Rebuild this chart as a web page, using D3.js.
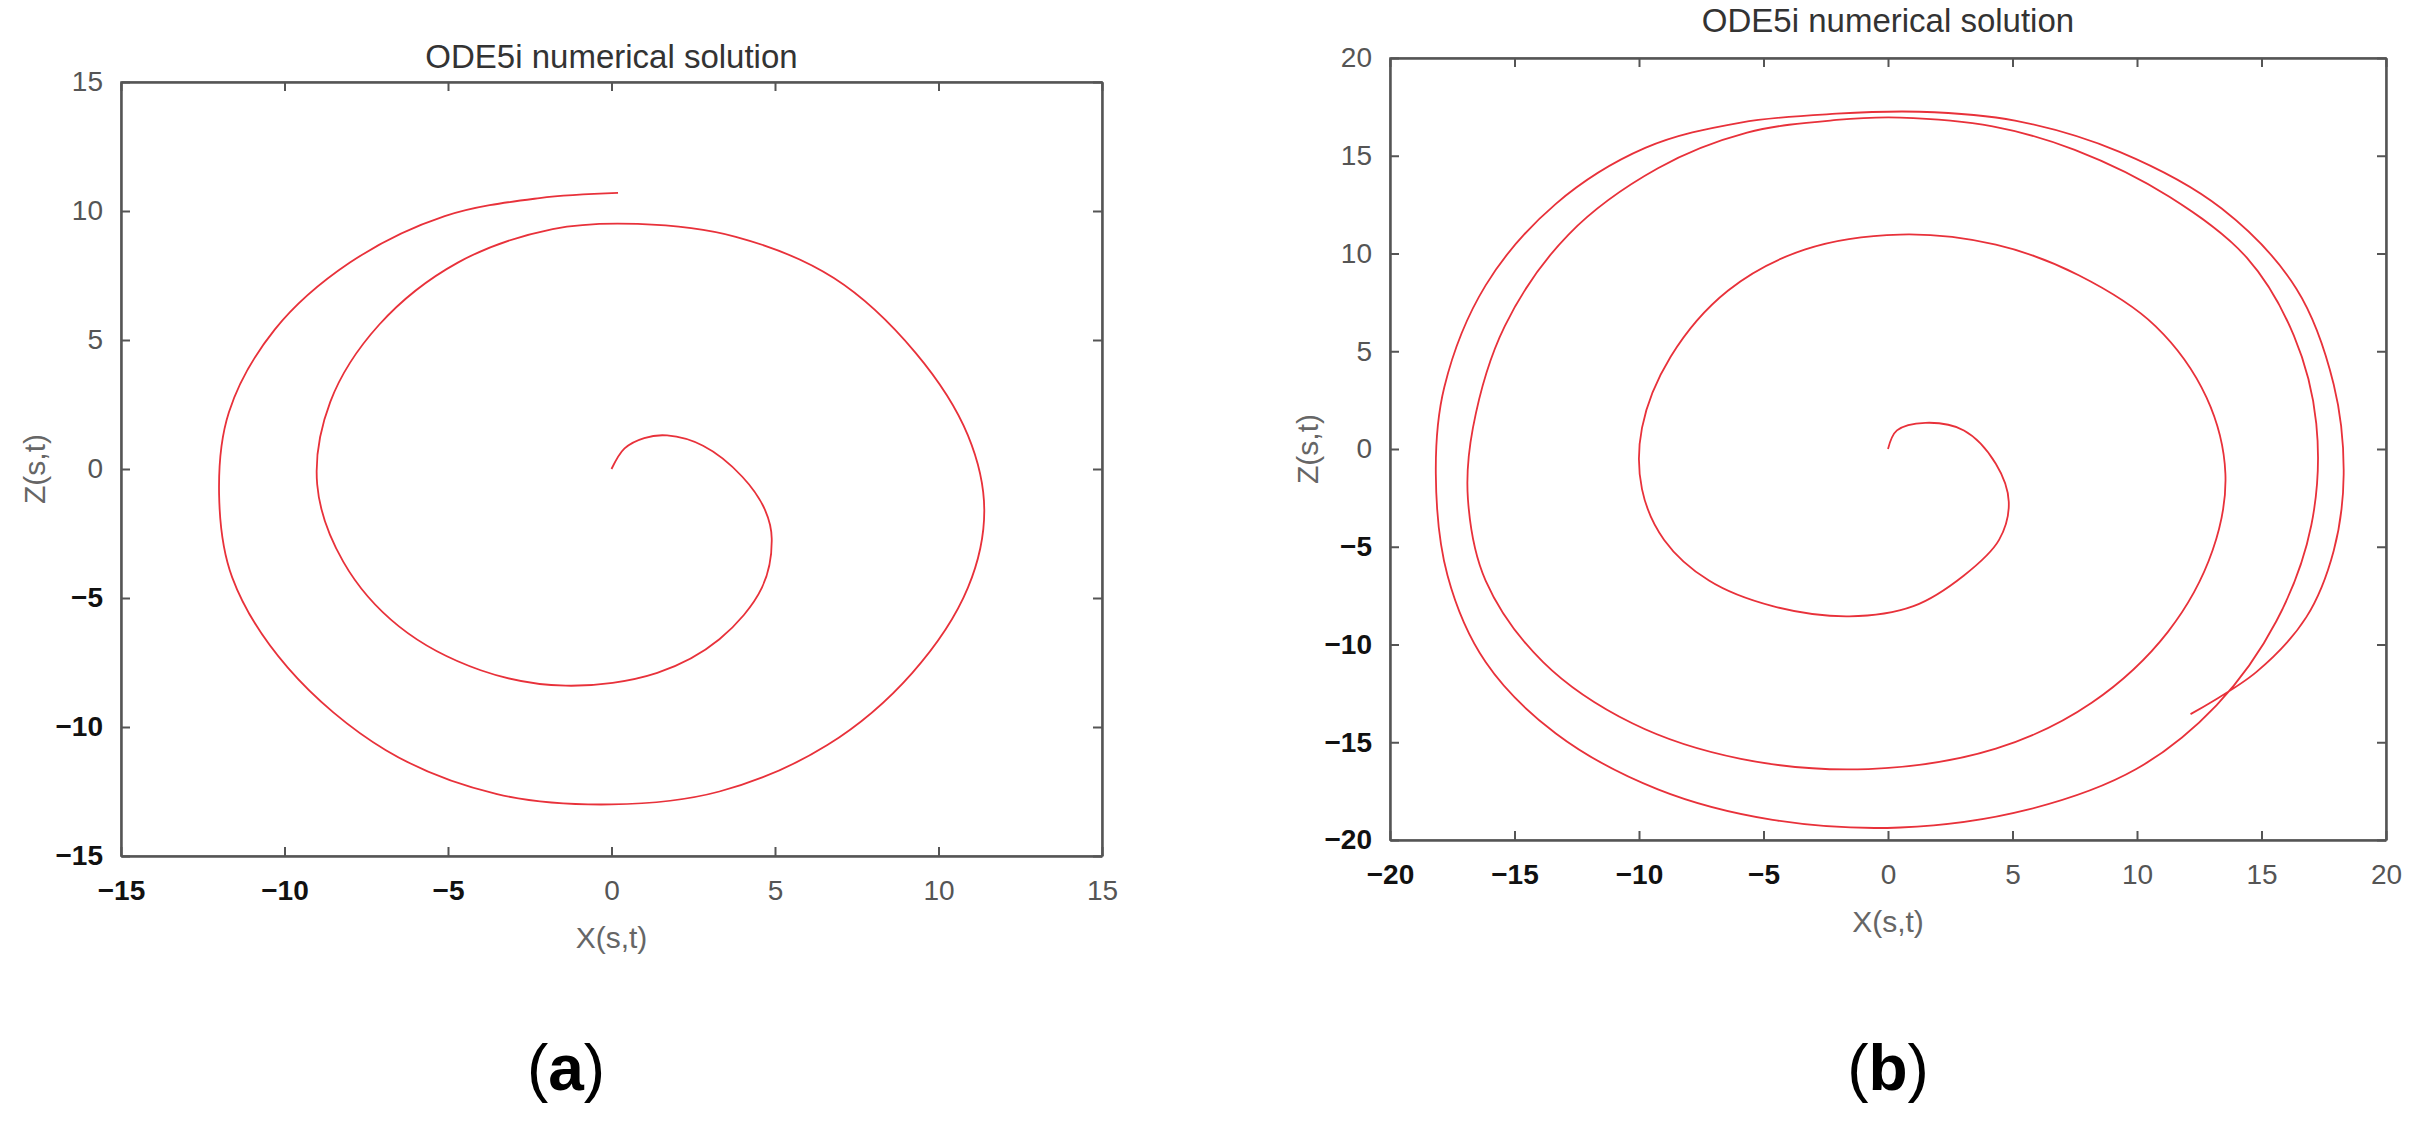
<!DOCTYPE html>
<html>
<head>
<meta charset="utf-8">
<script src="https://cdn.jsdelivr.net/npm/d3@7"></script>
<style>
  body { margin: 0; background: #fff; }
  text { font-family: "Liberation Sans", Arial, sans-serif; }
</style>
</head>
<body>
<svg id="fig" width="2436" height="1140"></svg>
<script>
// panel (a) trajectory: [X, Z]
var spiralA = [
  [0, 0], [0.4, 0.8], [1.0, 1.2], [1.7, 1.3], [2.8, 0.9], [4.0, -0.3], [4.7, -1.6], [4.9, -2.7],
  [4.6, -4.6], [3.3, -6.6], [1.4, -7.9], [-1.4, -8.4], [-4.0, -7.8], [-6.5, -6.1], [-8.2, -3.6],
  [-9.0, -0.6], [-8.6, 2.6], [-7.1, 5.6], [-4.7, 8.0], [-1.8, 9.3], [0.8, 9.5], [3.8, 9.0],
  [6.8, 7.4], [9.3, 4.5], [10.9, 1.3], [11.4, -1.6], [10.9, -4.6], [9.2, -7.9], [6.6, -10.7],
  [3.3, -12.5], [0, -13.0], [-3.5, -12.6], [-6.9, -10.9], [-9.9, -7.7], [-11.6, -4.2],
  [-12.0, -1.0], [-11.7, 2.2], [-10.3, 5.4], [-8.0, 8.0], [-5.1, 9.8], [-2.2, 10.5], [0.2, 10.7]
];
// panel (b) trajectory: [X, Z]
var spiralB = [
  [0, 0], [0.36, 0.95], [1.5, 1.34], [3.05, 0.95], [4.33, -0.75], [4.85, -2.7], [4.46, -4.65],
  [3.05, -6.47], [1.02, -8.04], [-1.56, -8.56], [-4.63, -8.04], [-7.19, -6.73], [-8.99, -4.65],
  [-9.88, -2.05], [-9.88, 1.08], [-8.73, 4.72], [-6.42, 8.11], [-3.35, 10.2], [0.49, 10.97],
  [4.33, 10.45], [7.66, 8.89], [10.74, 6.29], [12.79, 2.64], [13.55, -1.27], [13.04, -5.17],
  [11.25, -9.34], [8.18, -12.98], [4.33, -15.33], [-0.79, -16.37], [-5.91, -15.85],
  [-10.27, -14.03], [-13.85, -10.9], [-16.16, -6.73], [-16.87, -2.57], [-16.67, 1.08],
  [-15.39, 6.29], [-12.83, 10.97], [-9.24, 14.36], [-5.66, 16.18], [-2.07, 16.83], [0.49, 16.95],
  [4.2, 16.5], [7.5, 15.3], [11.3, 12.9], [14.4, 9.8], [16.3, 5.8], [17.2, 1.3],
  [17.0, -3.9], [15.6, -8.8], [13.2, -13.1], [9.97, -16.37], [5.61, -18.45], [0.49, -19.36],
  [-4.63, -18.97], [-9.24, -17.41], [-13.34, -14.55], [-16.16, -10.9], [-17.69, -6.47],
  [-18.16, -1.27], [-17.82, 3.16], [-16.16, 8.37], [-13.34, 12.54], [-9.75, 15.4], [-5.91, 16.7],
  [-2.07, 17.15], [1.26, 17.25], [5.1, 16.8], [9.3, 15.2], [13.4, 12.3], [16.4, 8.2],
  [17.9, 3.3], [18.3, -1.3], [17.9, -5.2], [16.8, -8.6], [14.8, -11.4], [12.15, -13.56]
];
var ticksA = [-15, -10, -5, 0, 5, 10, 15];
var ticksB = [-20, -15, -10, -5, 0, 5, 10, 15, 20];
var titleText = 'ODE5i numerical solution';
var xLabel = 'X(s,t)', yLabel = 'Z(s,t)';

var svg = d3.select('#fig');

function panel(opt) {
  var x = d3.scaleLinear().domain(opt.dom).range([opt.left, opt.right]);
  var y = d3.scaleLinear().domain(opt.dom).range([opt.bottom, opt.top]);
  var g = svg.append('g');

  // box
  g.append('rect').attr('x', opt.left).attr('y', opt.top)
    .attr('width', opt.right - opt.left).attr('height', opt.bottom - opt.top)
    .attr('fill', 'none').attr('stroke', '#9a9a9a').attr('stroke-width', 2);

  var xa = g.append('g').attr('transform', 'translate(0,' + opt.bottom + ')')
    .call(d3.axisBottom(x).tickValues(opt.ticks).tickSizeInner(-9).tickSizeOuter(0).tickPadding(24));
  var ya = g.append('g').attr('transform', 'translate(' + opt.left + ',0)')
    .call(d3.axisLeft(y).tickValues(opt.ticks).tickSizeInner(-9).tickSizeOuter(0).tickPadding(18));
  // mirrored ticks on top and right
  g.append('g').attr('transform', 'translate(0,' + opt.top + ')')
    .call(d3.axisTop(x).tickValues(opt.ticks).tickSizeInner(-9).tickSizeOuter(0).tickFormat(''));
  g.append('g').attr('transform', 'translate(' + opt.right + ',0)')
    .call(d3.axisRight(y).tickValues(opt.ticks).tickSizeInner(-9).tickSizeOuter(0).tickFormat(''));
  g.selectAll('.domain').attr('stroke', '#555').attr('stroke-width', 2.5);
  g.selectAll('.tick line').attr('stroke', '#555').attr('stroke-width', 2);
  [xa, ya].forEach(function (a) {
    a.selectAll('.tick text')
      .attr('font-size', 28)
      .attr('fill', function (d) { return d < 0 ? '#111' : '#555'; })
      .attr('font-weight', function (d) { return d < 0 ? 'bold' : 'normal'; })
      .text(function (d) { return d < 0 ? '\u2212' + (-d) : d; });
  });

  g.append('path').datum(opt.data)
    .attr('d', d3.line().x(function (d) { return x(d[0]); }).y(function (d) { return y(d[1]); })
      .curve(d3.curveCatmullRom.alpha(0.5)))
    .attr('fill', 'none').attr('stroke', '#e8313a').attr('stroke-width', 1.8);

  var cx = (opt.left + opt.right) / 2;
  g.append('text').attr('x', cx).attr('y', opt.titleY).attr('text-anchor', 'middle')
    .attr('font-size', 33).attr('fill', '#333').text(titleText);
  g.append('text').attr('x', cx).attr('y', opt.bottom + 92).attr('text-anchor', 'middle')
    .attr('font-size', 30).attr('fill', '#666').text(xLabel);
  g.append('text').attr('transform', 'translate(' + opt.ylabX + ',' + (opt.top + opt.bottom) / 2 + ') rotate(-90)')
    .attr('text-anchor', 'middle').attr('font-size', 30).attr('fill', '#666').text(yLabel);

  var cap = g.append('text').attr('x', opt.capX).attr('y', 1090).attr('text-anchor', 'middle')
    .attr('font-family', '"DejaVu Serif", "Liberation Serif", serif').attr('font-size', 64).attr('fill', '#000');
  cap.append('tspan').text('(');
  cap.append('tspan').attr('font-weight', 'bold').text(opt.cap);
  cap.append('tspan').text(')');
}

panel({ dom: [-15, 15], left: 121, right: 1102, top: 82, bottom: 856, ticks: ticksA,
  data: spiralA, titleY: 68, ylabX: 45, capX: 566, cap: 'a' });
panel({ dom: [-20, 20], left: 1390, right: 2386, top: 58, bottom: 840, ticks: ticksB,
  data: spiralB, titleY: 32, ylabX: 1318, capX: 1888, cap: 'b' });
</script>
</body>
</html>
